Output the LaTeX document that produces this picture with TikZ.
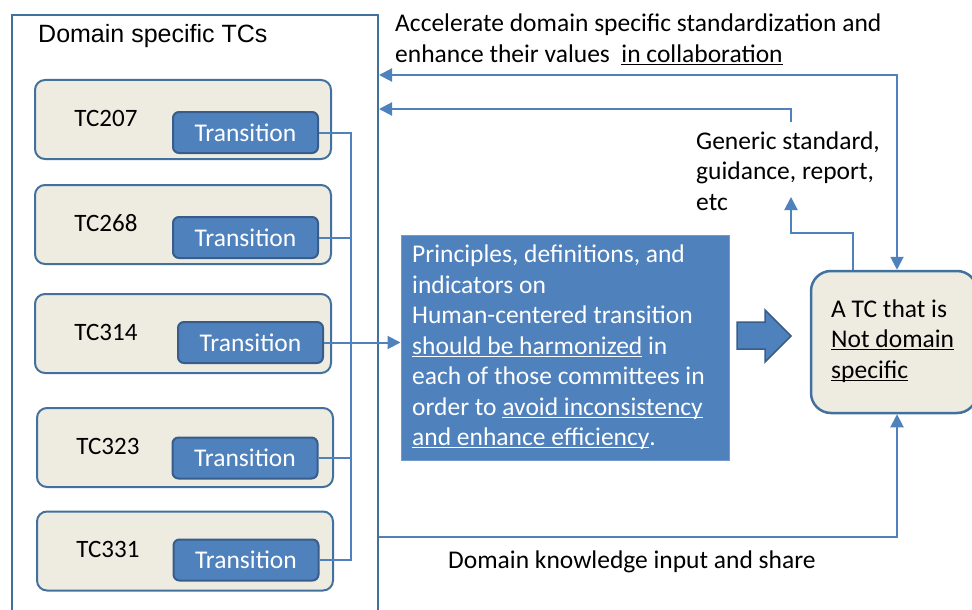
\documentclass[tikz,border=0pt]{standalone}
\usepackage{fontspec}
\setmainfont{Carlito}
\newfontfamily\arialfont{Liberation Sans}
\usetikzlibrary{arrows.meta}
\definecolor{lnblue}{HTML}{4F81BD}
\definecolor{bdblue}{HTML}{41719C}
\definecolor{dkblue}{HTML}{385D8A}
\definecolor{beige}{HTML}{EEECE1}
\newcommand{\ulin}[1]{\setbox0\hbox{#1}\rlap{\rule[-2.5pt]{\wd0}{1pt}}\box0\relax}
\newcommand{\bigtext}{\fontsize{25.5}{30.5}\selectfont}

\begin{document}
\begin{tikzpicture}[x=1pt,y=-1pt,
    tcbox/.style={draw=bdblue, fill=beige, line width=2pt, rounded corners=10pt,
      minimum width=296pt, minimum height=79pt},
    trbox/.style={draw=dkblue, fill=lnblue, line width=2pt, rounded corners=6pt,
      minimum width=145pt, minimum height=41pt, text=white, font=\bigtext},
    tclabel/.style={font=\fontsize{25}{30}\selectfont},
    note/.style={anchor=base west, align=left, inner sep=0pt, font=\bigtext},
    link/.style={draw=lnblue, line width=2pt},
    tip/.style={-{Triangle[length=13pt,width=13pt]}},
    tips/.style={{Triangle[length=13pt,width=13pt]}-{Triangle[length=13pt,width=13pt]}}]
    \useasboundingbox (0,0) rectangle (972,610);

    % left frame
    \node[draw=bdblue, line width=2pt, minimum width=366pt, minimum height=620pt,
      anchor=north west] (dom) at (11,14) {};
    \node[anchor=base west, inner sep=0pt, font=\arialfont\fontsize{25}{28}\selectfont]
      (domtitle) at (38,43) {Domain specific TCs};

    % committees
    \node[tcbox] (c1) at (183,119.5) {};
    \node[tclabel] (l1) at (106,118.5) {TC207};
    \node[trbox] (t1) at (245.5,132.5) {Transition};
    \node[tcbox] (c2) at (183,224.5) {};
    \node[tclabel] (l2) at (106,223.5) {TC268};
    \node[trbox] (t2) at (245.5,237.5) {Transition};
    \node[tcbox] (c3) at (183,333.5) {};
    \node[tclabel] (l3) at (106,332) {TC314};
    \node[trbox] (t3) at (250.5,342.5) {Transition};
    \node[tcbox] (c4) at (185,447.5) {};
    \node[tclabel] (l4) at (108,446) {TC323};
    \node[trbox] (t4) at (245,458) {Transition};
    \node[tcbox] (c5) at (185,551) {};
    \node[tclabel] (l5) at (108,549.5) {TC331};
    \node[trbox] (t5) at (246,560) {Transition};

    % harmonization box (anchored on its last line)
    \node[fill=lnblue, draw=lnblue!80!white, line width=1pt, minimum width=328pt,
      minimum height=225pt] (hb) at (565,347.5) {};
    \node[note, text=white] (ht) at (412,445.5) {Principles, definitions, and\\
      indicators on\\
      Human-centered transition\\
      \ulin{should be harmonized} in\\
      each of those committees in\\
      order to \ulin{avoid inconsistency}\\
      \ulin{and enhance efficiency}.};

    % generic TC
    \node[draw=bdblue, fill=beige, line width=2.5pt, rounded corners=20pt,
      minimum width=166pt, minimum height=142pt] (nt) at (894,342) {};
    \node[note] (ntt) at (831,378) {A TC that is\\ \ulin{Not domain}\\ \ulin{specific}};
    \draw[fill=lnblue, draw=dkblue, line width=1.5pt]
      (737,322) -- (765,322) -- (765,310) -- (791,336) -- (765,362)
      -- (765,349) -- (737,349) -- cycle;

    % texts
    \node[note] (acc) at (395,62.5) {Accelerate domain specific standardization and\\
      enhance their values\ \ \ulin{in collaboration}};
    \node[note] (gen) at (696,210) {Generic standard,\\ guidance, report,\\ etc};
    \node[note] (know) at (448,568) {Domain knowledge input and share};

    % connectors
    \coordinate (bus) at (351,0);
    \coordinate (k) at (897,75);
    \coordinate (g) at (853,233);
    \coordinate (r) at (791,197);
    \coordinate (s) at (791,122);
    \coordinate (s2) at (791,109);
    \coordinate (b) at (897,537);
    \draw[link] (t1.east) -- (t1.east -| bus) -- (t5.east -| bus) -- (t5.east);
    \draw[link] (t2.east) -- (t2.east -| bus);
    \draw[link] (t4.east) -- (t4.east -| bus);
    \draw[link, tip] (t3.east) -- (t3.east -| hb.west);
    \draw[link, tips] (k -| dom.east) -- (k) -- (k |- nt.north);
    \draw[link, tip] (s) -- (s2) -- (s2 -| dom.east);
    \draw[link, tip] (g |- nt.north) -- (g) -- (g -| r) -- (r);
    \draw[link, tip] (b -| dom.east) -- (b) -- (b |- nt.south);
\end{tikzpicture}
\end{document}
